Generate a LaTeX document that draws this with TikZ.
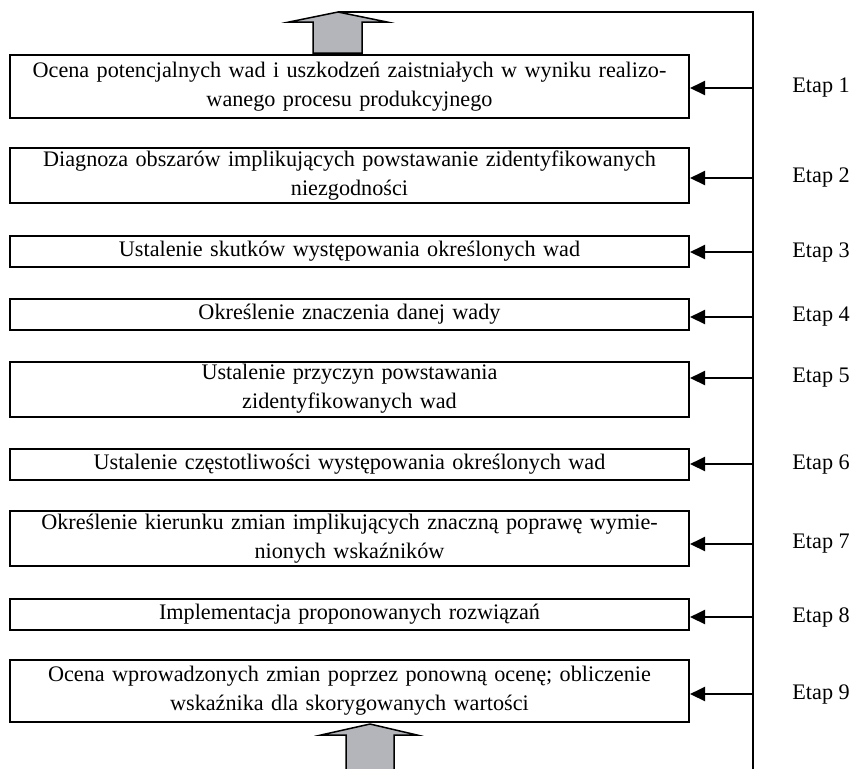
\documentclass[tikz,border=0pt]{standalone}
\usepackage{fontspec}
\setmainfont{Liberation Serif}
\usetikzlibrary{arrows.meta, positioning}
\definecolor{blockgray}{RGB}{180,181,186}
\tikzset{
  stage/.style={draw, line width=1pt, text width=335.5pt, inner xsep=2pt, inner ysep=0pt,
    align=center, font=\fontsize{11.1}{14.5}\selectfont},
  stage1/.style={stage, minimum height=15.5pt},
  stage2/.style={stage, minimum height=27.5pt},
  etap/.style={anchor=west, inner sep=0pt, font=\fontsize{11.1}{14.5}\selectfont},
  feed/.style={line width=1pt, -{Triangle[length=7.5pt, width=7pt]}},
  bigarrow/.style={fill=blockgray, draw, line width=0.75pt, line join=miter}
}

\begin{document}
\begin{tikzpicture}[x=0.5pt, y=-0.5pt]
  \useasboundingbox (0,0) rectangle (851,768);
  % stages
  \node[stage2, minimum height=31.5pt] (b1) at (349.5,86.5) {Ocena potencjalnych wad i uszkodzeń zaistniałych w wyniku realizo-\\wanego procesu produkcyjnego};
  \node[stage2] (b2) at (349.5,175.5) {Diagnoza obszarów implikujących powstawanie zidentyfikowanych\\niezgodności};
  \node[stage1] (b3) at (349.5,251.5) {Ustalenie skutków występowania określonych wad};
  \node[stage1] (b4) at (349.5,314.5) {Określenie znaczenia danej wady};
  \node[stage2] (b5) at (349.5,389) {Ustalenie przyczyn powstawania\\zidentyfikowanych wad};
  \node[stage1] (b6) at (349.5,464) {Ustalenie częstotliwości występowania określonych wad};
  \node[stage2] (b7) at (349.5,538.5) {Określenie kierunku zmian implikujących znaczną poprawę wymie-\\nionych wskaźników};
  \node[stage1] (b8) at (349.5,614) {Implementacja proponowanych rozwiązań};
  \node[stage2, minimum height=31pt] (b9) at (349.5,691) {Ocena wprowadzonych zmian poprzez ponowną ocenę; obliczenie\\wskaźnika dla skorygowanych wartości};
  % labels
  \node[etap] (e1) at (792,88) {Etap 1};
  \node[etap] (e2) at (792,178) {Etap 2};
  \node[etap] (e3) at (792,252) {Etap 3};
  \node[etap] (e4) at (792,317) {Etap 4};
  \node[etap] (e5) at (792,378) {Etap 5};
  \node[etap] (e6) at (792,464) {Etap 6};
  \node[etap] (e7) at (792,544) {Etap 7};
  \node[etap] (e8) at (792,617) {Etap 8};
  \node[etap] (e9) at (792,694) {Etap 9};
  % feedback line
  \coordinate (top) at (338,12);
  \coordinate (spine) at (753,770);
  \draw[line width=0.75pt] (top) -- (spine |- top) -- (spine);
  \foreach \i in {1,...,9} \draw[feed] (spine |- e\i) -- (b\i.east |- e\i);
  % block arrows
  \filldraw[bigarrow] (top) -- (387,22) -- (362,22) -- (362,53) -- (313,53) -- (313,22) -- (289,22) -- cycle;
  \filldraw[bigarrow] (370,724) -- (417,735) -- (394,735) -- (394,774) -- (346,774) -- (346,735) -- (321,735) -- cycle;
\end{tikzpicture}
\end{document}
